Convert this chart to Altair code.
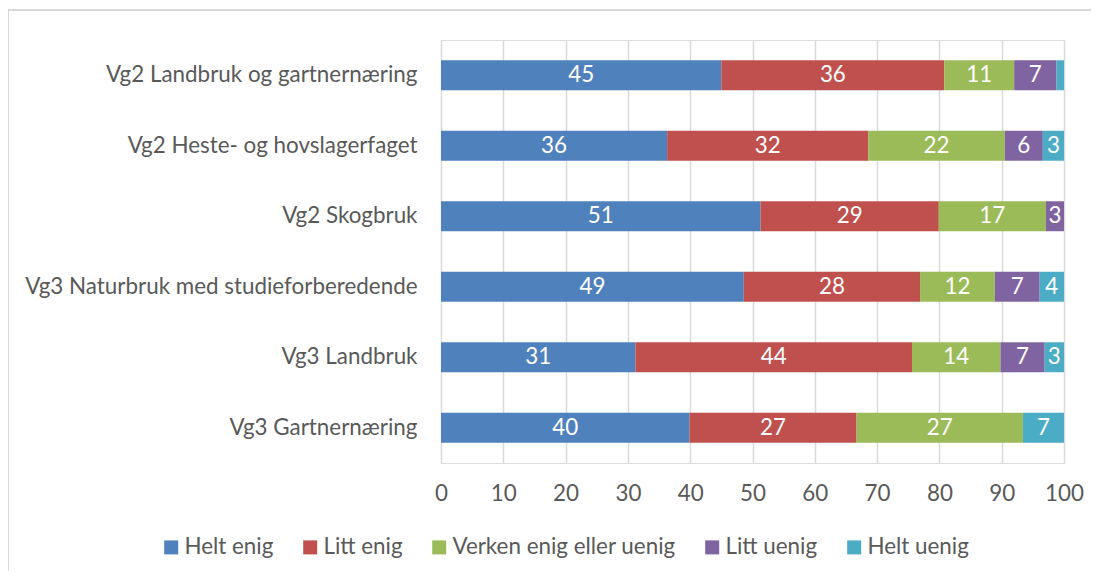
import altair as alt
import pandas as pd

programmes = [
    "Vg2 Landbruk og gartnernæring",
    "Vg2 Heste- og hovslagerfaget",
    "Vg2 Skogbruk",
    "Vg3 Naturbruk med studieforberedende",
    "Vg3 Landbruk",
    "Vg3 Gartnernæring",
]
categories = ["Helt enig", "Litt enig", "Verken enig eller uenig", "Litt uenig", "Helt uenig"]
helt_enig = [45.0, 36.3, 51.3, 48.6, 31.2, 39.9]
litt_enig = [35.8, 32.3, 28.6, 28.3, 44.4, 26.8]
verken = [11.2, 21.9, 17.2, 12.0, 14.2, 26.7]
litt_uenig = [6.8, 6.1, 2.9, 7.2, 7.1, 0.0]
helt_uenig = [1.2, 3.4, 0.0, 3.9, 3.1, 6.6]
colors = ["#4F81BD", "#C0504D", "#9BBB59", "#8064A2", "#4BACC6"]
x_ticks = [0, 10, 20, 30, 40, 50, 60, 70, 80, 90, 100]

series = [helt_enig, litt_enig, verken, litt_uenig, helt_uenig]
rows = []
for ci, (cat, vals) in enumerate(zip(categories, series)):
    for p, v in zip(programmes, vals):
        rows.append({"programme": p, "category": cat, "idx": ci, "value": v})
df = pd.DataFrame(rows)

FONT = "Lato"
GREY = "#595959"
FS = 22.4

PAD_L, PAD_T, PAD_R, PAD_B = 433, 32, 27, 108
W, H = 623, 423

base = (
    alt.Chart(df)
    .transform_filter("datum.value > 0")
    .transform_stack(
        stack="value",
        as_=["x0", "x1"],
        groupby=["programme"],
        sort=[alt.SortField("idx", order="ascending")],
    )
    .transform_calculate(mid="(datum.x0 + datum.x1) / 2")
)

y_enc = alt.Y(
    "programme:N",
    sort=programmes,
    scale=alt.Scale(paddingInner=0.575, paddingOuter=0.2875),
    axis=alt.Axis(
        title=None,
        ticks=False,
        domain=False,
        grid=False,
        labelPadding=24,
        labelLimit=600,
        labelFontSize=FS,
        labelColor=GREY,
        labelFont=FONT,
    ),
)

bars = base.mark_bar().encode(
    x=alt.X(
        "x0:Q",
        scale=alt.Scale(domain=[0, 100], nice=False),
        axis=alt.Axis(
            title=None,
            values=x_ticks,
            ticks=False,
            tickSize=0,
            domain=False,
            grid=True,
            gridColor="#d9d9d9",
            gridWidth=1.5,
            labelPadding=19,
            labelFlush=False,
            labelFontSize=FS,
            labelColor=GREY,
            labelFont=FONT,
        ),
    ),
    x2="x1:Q",
    y=y_enc,
    color=alt.Color(
        "category:N",
        scale=alt.Scale(domain=categories, range=colors),
        legend=alt.Legend(
            title=None,
            orient="none",
            direction="horizontal",
            legendX=-281,
            legendY=496,
            symbolType="square",
            symbolSize=196,
            symbolStrokeWidth=0,
            labelFontSize=FS,
            labelColor=GREY,
            labelFont=FONT,
            labelLimit=600,
            labelOffset=2,
            columnPadding=25,
        ),
    ),
)

labels = (
    base.transform_filter("datum.value >= 2")
    .transform_calculate(lab="format(datum.value, '.0f')")
    .mark_text(color="white", fontSize=FS, font=FONT, baseline="middle", align="center")
    .encode(
        x=alt.X("mid:Q"),
        y=alt.Y("programme:N", sort=programmes),
        text="lab:N",
    )
)

border_data = alt.Data(values=[{"b": 1}])
border_top = (
    alt.Chart(border_data)
    .mark_rule(stroke="#d9d9d9", strokeWidth=2)
    .encode(x=alt.value(-PAD_L), x2=alt.value(W + PAD_R), y=alt.value(-30))
)
border_left = (
    alt.Chart(border_data)
    .mark_rule(stroke="#d9d9d9", strokeWidth=2)
    .encode(x=alt.value(-PAD_L), y=alt.value(-30), y2=alt.value(H + PAD_B))
)

chart = (
    alt.layer(border_top, border_left, bars, labels)
    .properties(
        width=W,
        height=H,
        autosize=alt.AutoSizeParams(type="none"),
        padding={"left": PAD_L, "top": PAD_T, "right": PAD_R, "bottom": PAD_B},
    )
    .configure_view(stroke=None)
    .configure(font=FONT)
)

chart.save("out.html", embed_options={"renderer": "svg", "actions": False})
